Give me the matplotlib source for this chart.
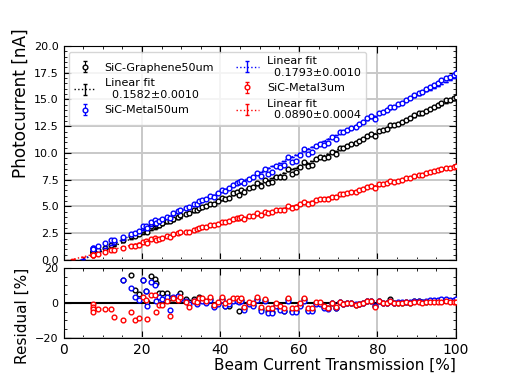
import numpy as np
import matplotlib
matplotlib.use('Agg')
import matplotlib.pyplot as plt
from matplotlib.ticker import MultipleLocator

# beam current transmission [%] (same settings for all three samples)
transmission = [
    7.4, 7.4, 7.5, 7.5, 8.7, 10.7, 12.1, 12.9, 15.1, 17.1, 18.2, 19.3, 20.2, 21.0,
    21.4, 22.3, 23.3, 23.6, 24.3, 25.2, 26.3, 27.2, 28.0, 29.2, 29.8, 31.3, 32.1, 33.3,
    34.0, 34.6, 35.2, 36.2, 37.2, 38.3, 39.3, 40.3, 41.2, 42.2, 43.3, 44.2, 44.7, 45.3,
    46.1, 47.2, 48.3, 49.3, 50.2, 51.3, 52.2, 53.2, 54.2, 55.2, 56.1, 57.3, 58.2, 59.2,
    60.2, 61.4, 62.3, 63.3, 64.3, 65.3, 66.4, 67.4,
    68.4, 69.4, 70.5, 71.3, 72.3, 73.2, 74.4, 75.3, 76.2, 77.3, 78.3, 79.3, 80.3, 81.4,
    82.4, 83.2, 84.2, 85.3, 86.2, 87.2, 88.3, 89.3, 90.5, 91.3, 92.3, 93.3, 94.3, 95.3,
    96.3, 97.4, 98.4, 99.4, 100.0]

# photocurrent [nA]
pc_graphene50 = [
    0.78, 0.74, 0.80, 0.76, 0.93, 1.16, 1.42, 1.58, 1.853, 2.268, 2.287, 2.421, 2.766, 2.752,
    2.657, 3.206, 3.332, 3.324, 3.271, 3.421, 3.605, 3.660, 3.790, 4.024, 4.190, 4.286, 4.350, 4.631,
    4.652, 4.894, 4.915, 5.002, 5.263, 5.229, 5.467, 5.766, 5.658, 5.837, 6.222, 6.367, 6.043, 6.532,
    6.347, 6.717, 6.822, 7.226, 6.940, 7.476, 7.170, 7.283, 7.746, 7.743, 7.743, 8.481, 8.077, 8.228,
    8.686, 9.143, 8.742, 8.912, 9.422, 9.581, 9.511, 9.615,
    10.051, 9.943, 10.486, 10.477, 10.677, 10.819, 10.910, 11.107, 11.294, 11.628, 11.788, 11.559, 12.073, 12.115,
    12.286, 12.660, 12.570, 12.745, 12.887, 13.123, 13.246, 13.511, 13.703, 13.735, 13.963, 14.136, 14.338, 14.470,
    14.688, 14.908, 14.980, 15.140, 15.251]

pc_metal50 = [
    1.09, 1.01, 1.12, 1.04, 1.31, 1.56, 1.87, 1.85, 2.157, 2.461, 2.552, 2.706, 3.192, 3.173,
    2.991, 3.576, 3.732, 3.476, 3.685, 3.811, 4.057, 3.914, 4.372, 4.604, 4.657, 4.860, 4.931, 5.222,
    5.264, 5.485, 5.583, 5.691, 5.970, 5.916, 6.215, 6.535, 6.462, 6.733, 7.054, 7.218, 7.251, 7.396,
    7.167, 7.602, 7.742, 8.176, 7.840, 8.482, 8.055, 8.223, 8.784, 8.734, 8.842, 9.597, 9.125, 9.294,
    9.844, 10.342, 9.925, 10.096, 10.643, 10.821, 10.783, 10.901,
    11.464, 11.294, 11.935, 11.948, 12.163, 12.325, 12.440, 12.663, 12.863, 13.230, 13.411, 13.177, 13.734, 13.795,
    14.002, 14.301, 14.326, 14.538, 14.700, 14.954, 15.107, 15.409, 15.627, 15.695, 15.954, 16.168, 16.382, 16.564,
    16.796, 17.030, 17.146, 17.329, 17.473]

pc_metal3 = [
    0.506, 0.496, 0.500, 0.490, 0.603, 0.775, 0.894, 0.916, 1.078, 1.303, 1.324, 1.433, 1.707, 1.745,
    1.595, 1.919, 2.012, 1.847, 1.993, 2.072, 2.213, 2.107, 2.405, 2.490, 2.582, 2.646, 2.650, 2.842,
    2.888, 3.009, 3.063, 3.103, 3.262, 3.226, 3.361, 3.547, 3.510, 3.642, 3.804, 3.886, 3.886, 3.987,
    3.870, 4.067, 4.140, 4.373, 4.227, 4.517, 4.365, 4.452, 4.664, 4.691, 4.702, 5.083, 4.884, 4.970,
    5.197, 5.458, 5.238, 5.325, 5.595, 5.684, 5.673, 5.679,
    5.926, 5.876, 6.174, 6.159, 6.272, 6.352, 6.400, 6.512, 6.619, 6.817, 6.907, 6.763, 7.067, 7.080,
    7.169, 7.349, 7.329, 7.427, 7.507, 7.641, 7.693, 7.860, 7.968, 7.960, 8.097, 8.186, 8.309, 8.365,
    8.488, 8.629, 8.642, 8.731, 8.785]

series_names = ['SiC-Graphene50um', 'SiC-Metal50um', 'SiC-Metal3um']
series_colors = ['black', 'blue', 'red']
fit_slopes = [0.1582, 0.1793, 0.0890]
fit_slope_errs = [0.0010, 0.0010, 0.0004]
fit_offsets = [-0.75, -0.80, -0.15]
pc_err = 0.04

x = np.array(transmission)
currents = [np.array(pc_graphene50), np.array(pc_metal50), np.array(pc_metal3)]
x_line = np.concatenate([[0.0, 2.5, 5.0], x])

fig = plt.figure(figsize=(5.08, 3.81), dpi=100)
ax = fig.add_axes([0.125, 0.3176, 0.7726, 0.5617])
axr = fig.add_axes([0.125, 0.1129, 0.7726, 0.1837], sharex=ax)

z = 3
for y, name, col, s, se, b in zip(currents, series_names, series_colors,
                                   fit_slopes, fit_slope_errs, fit_offsets):
    ax.errorbar(x, y, yerr=pc_err, fmt='o', mfc='white', mec=col, color=col,
                ms=3.4, mew=1.0, elinewidth=0.8, capsize=1.5, label=name, zorder=z + 1)
    ax.errorbar(x_line, s * x_line + b, yerr=0.0, fmt=':', color=col, lw=1.0,
                elinewidth=1.0, capsize=1.5, zorder=z,
                label='Linear fit\n  %.4f±%.4f' % (s, se))
    fit = s * x + b
    res = (y - fit) / fit * 100
    axr.plot(x, res, 'o', mfc='white', mec=col, ms=3.4, mew=1.0, zorder=z + 1)
    z += 2

axr.axhline(0, color='black', lw=1.5, zorder=2)

ax.set_xlim(0, 100)
ax.set_ylim(0, 20)
axr.set_ylim(-20, 20)

ax.yaxis.set_major_locator(MultipleLocator(2.5))
ax.yaxis.set_minor_locator(MultipleLocator(0.5))
ax.xaxis.set_major_locator(MultipleLocator(20))
ax.xaxis.set_minor_locator(MultipleLocator(5))
axr.yaxis.set_major_locator(MultipleLocator(20))
axr.yaxis.set_minor_locator(MultipleLocator(5))

for a in (ax, axr):
    a.grid(True, which='major', color='#c8c8c8', lw=1.4, zorder=0)
    a.set_axisbelow(True)
    a.tick_params(which='both', direction='in', top=True, right=True, labelsize=8)
    a.tick_params(which='major', length=5)
    a.tick_params(which='minor', length=2.5)
plt.setp(ax.get_xticklabels(), visible=False)
axr.tick_params(axis='x', labelsize=10)

ax.set_ylabel('Photocurrent [nA]', fontsize=12.2, loc='top')
axr.set_ylabel('Residual [%]', fontsize=11, loc='top')
axr.set_xlabel('Beam Current Transmission [%]', fontsize=11, loc='right', labelpad=1)
ax.yaxis.set_label_coords(-0.085, 1.08)
axr.yaxis.set_label_coords(-0.085, 1.0)

ax.legend(loc='upper left', ncol=2, fontsize=8, borderaxespad=0.5, columnspacing=2.0)

fig.savefig('out.png', dpi=100)
